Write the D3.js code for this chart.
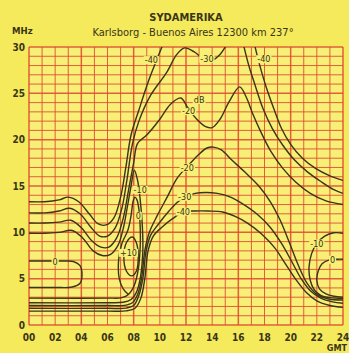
<!DOCTYPE html>
<html>
<head>
<meta charset="utf-8">
<script src="https://cdn.jsdelivr.net/npm/d3@7"></script>
<style>
  html, body { margin: 0; padding: 0; background: #f4ea5c; }
  svg { display: block; }
</style>
</head>
<body>
<div id="chart"></div>
<script>
// --- DATA (hour GMT, MHz) ---
const hourTicks = ["00", "02", "04", "06", "08", "10", "12", "14", "16", "18", "20", "22", "24"];
const mhzTicks = [0, 5, 10, 15, 20, 25, 30];

// upper contours (night -> MUF side)
const upper40 = [[0,13.3],[1.2,13.3],[2.3,13.5],[3,13.8],[3.8,13.3],[4.6,12],[5.3,10.9],[5.9,10.8],[6.5,11.6],[7.0,13.8],[7.4,17],[7.8,20.5],[8.4,23.2],[9.1,26.2],[9.7,28.4],[10.3,30.5]];
const upper40R = [[17.2,30.5],[17.6,28.2],[18.1,25.8],[18.7,23.4],[19.3,21.2],[20.0,19.5],[20.9,18],[21.9,16.9],[23,16.1],[24,15.6]];
const upper30 = [[0,12.1],[1.2,12.1],[2.3,12.3],[3.1,12.6],[3.9,12],[4.7,10.6],[5.4,9.6],[6.0,9.6],[6.6,10.5],[7.1,12.6],[7.5,15.8],[7.9,19.5],[8.4,22],[9.3,24.8],[10.5,27.2],[11.3,29.2],[11.9,29.9],[12.6,29.5],[13.3,28.8],[14.0,28.6],[14.6,29.2],[15.2,30.5]];
const upper30R = [[16.35,30.5],[16.8,28],[17.3,25.8],[17.9,23.3],[18.6,21.2],[19.4,19.4],[20.3,17.8],[21.3,16.5],[22.4,15.4],[23.3,14.6],[24,14.2]];
const upper20 = [[0,11],[1.2,11],[2.3,11.1],[3.2,11.3],[4.0,10.5],[4.8,9.1],[5.5,8.4],[6.1,8.4],[6.7,9.4],[7.2,11.5],[7.6,14.5],[8.0,17.5],[8.3,19.6],[9.0,20.5],[10.0,22.2],[10.8,23.8],[11.6,24.5],[12.2,23.3],[12.9,22.1],[13.5,21.4],[14.0,21.3],[14.6,22.2],[15.3,24.1],[16.1,25.7],[16.6,24.6],[17.1,22.8],[17.7,20.9],[18.5,18.7],[19.4,16.9],[20.4,15.4],[21.5,14.2],[22.7,13.4],[24,13.0]];

// -10 and 0 around dawn
const minus10 = [[0,9.9],[1.2,9.9],[2.3,10],[3.3,10.2],[4.1,9.4],[4.9,8.0],[5.6,7.5],[6.2,7.6],[6.8,8.6],[7.2,10.4],[7.5,12.6],[7.8,15],[8.05,16.7],[8.3,15.6],[8.5,13.5],[8.65,11],[8.7,8],[8.5,5],[8.2,3.5],[7.8,2.75],[7.2,2.45],[6,2.4],[0,2.4]];
const zeroDawn = [[0,2.9],[6,2.9],[7.1,2.95],[7.6,3.3],[8.05,4.3],[8.35,6],[8.5,8.5],[8.5,10.5],[8.4,12.5],[8.25,13.5],[8.1,13.8],[7.95,13.3],[7.8,11.8],[7.55,10.2],[7.1,8.8],[6.85,7],[6.9,5],[7.2,3.9],[7.6,3.3]];
const plus10 = [[7.9,9.5],[8.2,8.9],[8.35,7.4],[8.2,5.8],[7.85,5.3],[7.45,5.8],[7.25,7.3],[7.45,8.9]];
const zeroNight = [[0,6.9],[1.5,6.9],[2.5,6.9],[3.4,6.85],[3.9,6.4],[4.05,5.4],[3.9,4.5],[3.3,4.1],[2,4.05],[0,4.05]];

// lower contours (LUF side)
const lower20 = [[0,2.1],[6,2.1],[7.3,2.12],[7.9,2.4],[8.3,3.3],[8.6,5],[8.85,8],[9.2,10],[9.8,11.8],[10.6,13.9],[11.3,15.8],[12.1,17.1],[12.9,18.3],[13.6,19.1],[14.1,19.2],[14.7,18.9],[15.5,17.8],[16.5,16.5],[17.5,15.1],[18.4,13.4],[19.2,11.3],[19.9,8.9],[20.6,6.4],[21.3,4.4],[22,3.3],[22.9,2.8],[24,2.7]];
const lower30 = [[0,1.8],[6,1.8],[7.4,1.82],[8.0,2.1],[8.4,3.2],[8.7,5],[8.95,8],[9.3,9.7],[9.9,10.9],[10.7,12.3],[11.3,13.2],[11.9,13.8],[12.7,14.2],[13.5,14.3],[14.4,14.2],[15.4,13.8],[16.3,13.1],[17.4,12],[18.4,10.6],[19.3,8.8],[20.1,6.8],[20.8,5],[21.5,3.7],[22.3,2.9],[23.2,2.5],[24,2.35]];
const lower40 = [[0,1.5],[6,1.5],[7.4,1.52],[8.1,1.8],[8.55,2.9],[8.85,5],[9.1,8],[9.5,9.6],[10.2,10.6],[11.0,11.5],[11.8,12.2],[12.7,12.3],[13.7,12.3],[14.8,12.2],[15.8,11.7],[16.7,11],[17.8,9.8],[18.8,8.3],[19.6,6.6],[20.4,4.9],[21.2,3.5],[22,2.6],[23,2.1],[24,1.9]];

// evening -10 / 0
const minus10R = [[24,9.9],[23.3,9.95],[22.6,9.6],[22.0,8.8],[21.6,7.7],[21.4,6.2],[21.5,4.8],[21.8,3.8],[22.3,3.2],[23.0,2.95],[24,2.85]];
const zeroR = [[24,7.1],[23.6,7.1],[22.9,7.0],[22.4,6.6],[22.1,5.8],[22.0,4.8],[22.2,3.9],[22.7,3.35],[23.3,3.1],[24,3.0]];

const openCurves = [upper40, upper40R, upper30, upper30R, upper20, minus10, zeroDawn, zeroNight, lower20, lower30, lower40, minus10R, zeroR];
const closedCurves = [plus10];

// contour labels: text, hour, MHz
const labelText = ["-40", "-30", "-40", "dB", "-20", "-20", "-30", "-40", "-10", "0", "+10", "0", "-10", "0"];
const labelHour = [9.35, 13.6, 17.95, 13.0, 12.2, 12.1, 11.9, 11.8, 8.5, 8.35, 7.6, 2.0, 22.0, 23.2];
const labelMhz = [28.6, 28.75, 28.7, 24.3, 23.1, 17.0, 13.85, 12.25, 14.6, 11.8, 7.8, 6.85, 8.8, 7.05];

// --- 1. SETUP ---
const width = 349, height = 353;
const ink = "#3a3517";
const font = "'DejaVu Sans Condensed', 'DejaVu Sans', sans-serif";

const svg = d3.select("#chart").append("svg")
  .attr("width", width)
  .attr("height", height);

svg.append("rect").attr("width", width).attr("height", height).attr("fill", "#f4ea5c");

const x = d3.scaleLinear().domain([0, 24]).range([29, 343]);
const y = d3.scaleLinear().domain([0, 30]).range([325, 47]);

// --- 2. GRID ---
svg.append("rect")
  .attr("x", x(0)).attr("y", y(30))
  .attr("width", x(24) - x(0)).attr("height", y(0) - y(30))
  .attr("fill", "#f7ef76");

const grid = svg.append("g");
grid.selectAll("line.v").data(d3.range(0, 25)).enter().append("line")
  .attr("x1", d => x(d)).attr("x2", d => x(d))
  .attr("y1", y(0)).attr("y2", y(30))
  .attr("stroke", "#e0472f")
  .attr("stroke-width", d => d % 4 === 0 ? 1.5 : 1)
  .attr("opacity", 0.85);
grid.selectAll("line.h").data(d3.range(0, 31)).enter().append("line")
  .attr("x1", x(0)).attr("x2", x(24))
  .attr("y1", d => y(d)).attr("y2", d => y(d))
  .attr("stroke", "#e0472f")
  .attr("stroke-width", d => d % 5 === 0 ? 1.5 : 1)
  .attr("opacity", 0.85);

// --- 3. CONTOURS ---
svg.append("clipPath").attr("id", "plot")
  .append("rect")
  .attr("x", x(0)).attr("y", y(30))
  .attr("width", x(24) - x(0)).attr("height", y(0) - y(30));

const line = d3.line().x(d => x(d[0])).y(d => y(d[1])).curve(d3.curveCatmullRom.alpha(0.5));
const loop = d3.line().x(d => x(d[0])).y(d => y(d[1])).curve(d3.curveCatmullRomClosed.alpha(0.5));

const curves = svg.append("g").attr("clip-path", "url(#plot)");
curves.selectAll("path.open").data(openCurves).enter().append("path")
  .attr("d", line)
  .attr("fill", "none")
  .attr("stroke", ink)
  .attr("stroke-width", 1.4);
curves.selectAll("path.closed").data(closedCurves).enter().append("path")
  .attr("d", loop)
  .attr("fill", "none")
  .attr("stroke", ink)
  .attr("stroke-width", 1.4);

// --- 4. CONTOUR LABELS ---
const labels = svg.append("g");
labelText.forEach((t, i) => {
  const g = labels.append("g").attr("transform", `translate(${x(labelHour[i])},${y(labelMhz[i])})`);
  const txt = g.append("text")
    .attr("text-anchor", "middle")
    .attr("dy", "0.35em")
    .attr("font-family", font)
    .attr("font-size", "9px")
    .attr("fill", ink)
    .text(t);
  const b = txt.node().getBBox();
  g.insert("rect", "text")
    .attr("x", b.x - 1).attr("y", b.y + 1)
    .attr("width", b.width + 2).attr("height", b.height - 2)
    .attr("fill", "#f7ef76");
});

// --- 5. AXES TEXT ---
svg.selectAll("text.ytick").data(mhzTicks).enter().append("text")
  .attr("x", 25).attr("y", d => y(d))
  .attr("dy", "0.35em")
  .attr("text-anchor", "end")
  .attr("font-family", font).attr("font-weight", "bold").attr("font-size", "10px")
  .attr("fill", ink)
  .text(d => d);

svg.selectAll("text.xtick").data(hourTicks).enter().append("text")
  .attr("x", (d, i) => x(i * 2)).attr("y", 341)
  .attr("text-anchor", "middle")
  .attr("font-family", font).attr("font-weight", "bold").attr("font-size", "10px")
  .attr("fill", ink)
  .text(d => d);

svg.append("text").attr("x", 12).attr("y", 34)
  .attr("font-family", font).attr("font-weight", "bold").attr("font-size", "9.5px")
  .attr("fill", ink).text("MHz");

svg.append("text").attr("x", 347).attr("y", 351)
  .attr("text-anchor", "end")
  .attr("font-family", font).attr("font-weight", "bold").attr("font-size", "9px")
  .attr("fill", ink).text("GMT");

svg.append("text").attr("x", 186).attr("y", 21)
  .attr("text-anchor", "middle")
  .attr("font-family", font).attr("font-weight", "bold").attr("font-size", "11px")
  .attr("fill", ink).text("SYDAMERIKA");

svg.append("text").attr("x", 193).attr("y", 36)
  .attr("text-anchor", "middle")
  .attr("font-family", font).attr("font-size", "11px")
  .attr("fill", ink).text("Karlsborg - Buenos Aires 12300 km 237°");
</script>
</body>
</html>
